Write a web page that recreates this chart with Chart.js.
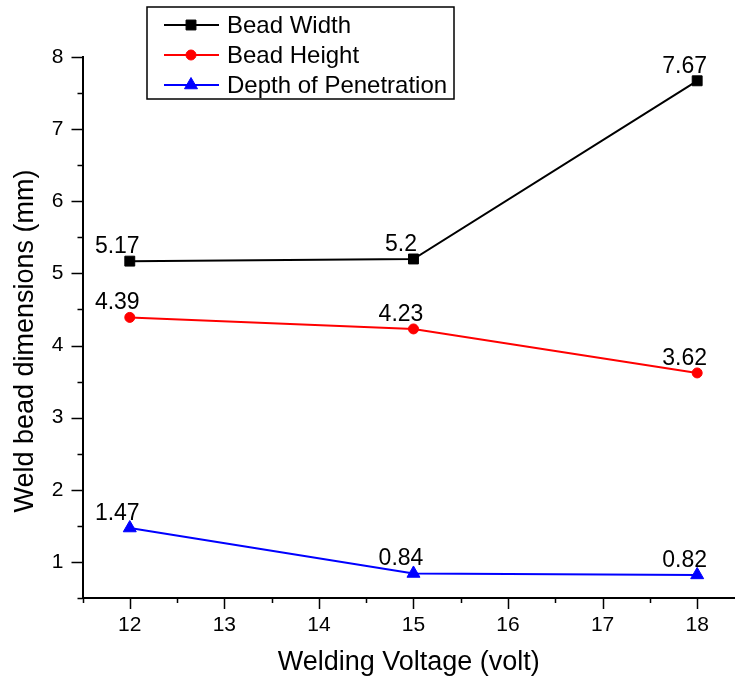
<!DOCTYPE html>
<html>
<head>
<meta charset="utf-8">
<script src="https://cdn.jsdelivr.net/npm/chart.js@4.4.0/dist/chart.umd.min.js"></script>
<style>
  html, body { margin: 0; padding: 0; background: #fff; }
  #wrap { width: 735px; height: 683px; position: relative; }
</style>
</head>
<body>
<div id="wrap"><canvas id="myChart"></canvas></div>
<script>
// welding voltage vs. bead geometry
var voltage = [12, 15, 18];
var beadWidth = [5.17, 5.2, 7.67];
var beadHeight = [4.39, 4.23, 3.62];
var penetration = [1.47, 0.84, 0.82];
var seriesNames = ["Bead Width", "Bead Height", "Depth of Penetration"];
var yTitle = "Weld bead dimensions (mm)";

var FONT = "'Liberation Sans', Arial, sans-serif";

function toPoints(ys) {
    return voltage.map(function(v, i) { return {x: v, y: ys[i]}; });
}

// keep only ticks on half-unit steps
function halfSteps(scale) {
    scale.ticks = scale.ticks.filter(function(t) {
        return Math.abs(t.value * 2 - Math.round(t.value * 2)) < 1e-6;
    });
}

// major/minor tick marks drawn outside the axes
var tickMarks = {
    id: 'tickMarks',
    afterDraw: function(chart) {
        var ctx = chart.ctx;
        var xs = chart.scales.x, ys = chart.scales.y;
        ctx.save();
        ctx.strokeStyle = '#000';
        ctx.lineWidth = 1.5;
        ctx.beginPath();
        xs.ticks.forEach(function(t) {
            var len = Number.isInteger(t.value) ? 11 : 5;
            var px = Math.round(xs.getPixelForValue(t.value)) + 0.5;
            ctx.moveTo(px, xs.top);
            ctx.lineTo(px, xs.top + len);
        });
        ys.ticks.forEach(function(t) {
            var len = Number.isInteger(t.value) ? 11 : 5;
            var py = Math.round(ys.getPixelForValue(t.value)) + 0.5;
            ctx.moveTo(ys.right, py);
            ctx.lineTo(ys.right - len, py);
        });
        ctx.stroke();

        // vertical axis title
        ctx.font = '27px ' + FONT;
        ctx.fillStyle = '#000';
        ctx.textAlign = 'center';
        ctx.textBaseline = 'middle';
        ctx.translate(26, 341);
        ctx.rotate(-Math.PI / 2);
        ctx.fillText(yTitle, 0, 0);
        ctx.restore();
    }
};

// value labels above each point
var valueLabels = {
    id: 'valueLabels',
    afterDatasetsDraw: function(chart) {
        var ctx = chart.ctx;
        ctx.save();
        ctx.font = '23px ' + FONT;
        ctx.fillStyle = '#000';
        ctx.textAlign = 'center';
        ctx.textBaseline = 'alphabetic';
        chart.data.datasets.forEach(function(ds, i) {
            chart.getDatasetMeta(i).data.forEach(function(el, j) {
                ctx.fillText(String(ds.data[j].y), el.x - 12.5, el.y - 8);
            });
        });
        ctx.restore();
    }
};

// boxed legend in the upper left of the plot
var boxLegend = {
    id: 'boxLegend',
    afterDraw: function(chart) {
        var ctx = chart.ctx;
        ctx.save();
        ctx.strokeStyle = '#000';
        ctx.lineWidth = 1.5;
        ctx.strokeRect(147, 7, 307, 92);
        ctx.font = '24px ' + FONT;
        ctx.textBaseline = 'middle';
        ctx.textAlign = 'left';
        chart.data.datasets.forEach(function(ds, i) {
            var y = 25 + i * 30;
            ctx.strokeStyle = ds.borderColor;
            ctx.lineWidth = 2;
            ctx.beginPath();
            ctx.moveTo(164, y);
            ctx.lineTo(219, y);
            ctx.stroke();
            ctx.fillStyle = ds.backgroundColor;
            ctx.strokeStyle = ds.borderColor;
            ctx.lineWidth = 1;
            Chart.helpers.drawPoint(ctx, {
                pointStyle: ds.pointStyle,
                radius: ds.pointRadius,
                rotation: 0,
                borderWidth: 1
            }, 191, y);
            ctx.fillStyle = '#000';
            ctx.fillText(ds.label, 227, y + 1);
        });
        ctx.restore();
    }
};

var ctx = document.getElementById('myChart').getContext('2d');
var chart = new Chart(ctx, {
    type: 'line',
    data: {
        datasets: [
            {
                label: seriesNames[0],
                data: toPoints(beadWidth),
                borderColor: '#000000',
                backgroundColor: '#000000',
                borderWidth: 2,
                pointStyle: 'rect',
                pointRadius: 7,
                pointBorderWidth: 1
            },
            {
                label: seriesNames[1],
                data: toPoints(beadHeight),
                borderColor: '#ff0000',
                backgroundColor: '#ff0000',
                borderWidth: 2,
                pointStyle: 'circle',
                pointRadius: 5,
                pointBorderWidth: 1
            },
            {
                label: seriesNames[2],
                data: toPoints(penetration),
                borderColor: '#0000ff',
                backgroundColor: '#0000ff',
                borderWidth: 2,
                pointStyle: 'triangle',
                pointRadius: 7.5,
                pointBorderWidth: 1
            }
        ]
    },
    options: {
        responsive: true,
        maintainAspectRatio: false,
        animation: false,
        layout: {
            autoPadding: false,
            padding: { top: 57, right: 0, left: 0, bottom: 0 }
        },
        plugins: {
            legend: { display: false },
            tooltip: { enabled: false }
        },
        scales: {
            x: {
                type: 'linear',
                min: 11.5,
                max: 18.4,
                afterBuildTicks: halfSteps,
                afterFit: function(s) {
                    s.height = 85;
                    s.paddingLeft = 0;
                    s.paddingRight = 0;
                },
                grid: { display: false, drawTicks: false },
                border: { display: true, color: '#000', width: 2 },
                ticks: {
                    stepSize: 0.5,
                    includeBounds: false,
                    autoSkip: false,
                    maxRotation: 0,
                    padding: 15,
                    color: '#000',
                    font: { family: FONT, size: 21 },
                    callback: function(v) { return Number.isInteger(v) ? v : ''; }
                },
                title: {
                    display: true,
                    text: 'Welding Voltage (volt)',
                    color: '#000',
                    font: { family: FONT, size: 27 },
                    padding: { top: 0, bottom: 4 }
                }
            },
            y: {
                type: 'linear',
                min: 0.5,
                max: 8,
                afterBuildTicks: halfSteps,
                afterFit: function(s) { s.width = 82.5; },
                grid: { display: false, drawTicks: false },
                border: { display: true, color: '#000', width: 2 },
                ticks: {
                    stepSize: 0.5,
                    includeBounds: false,
                    autoSkip: false,
                    padding: 19,
                    color: '#000',
                    font: { family: FONT, size: 21 },
                    callback: function(v) { return Number.isInteger(v) ? v : ''; }
                }
            }
        }
    },
    plugins: [tickMarks, valueLabels, boxLegend]
});
</script>
</body>
</html>
